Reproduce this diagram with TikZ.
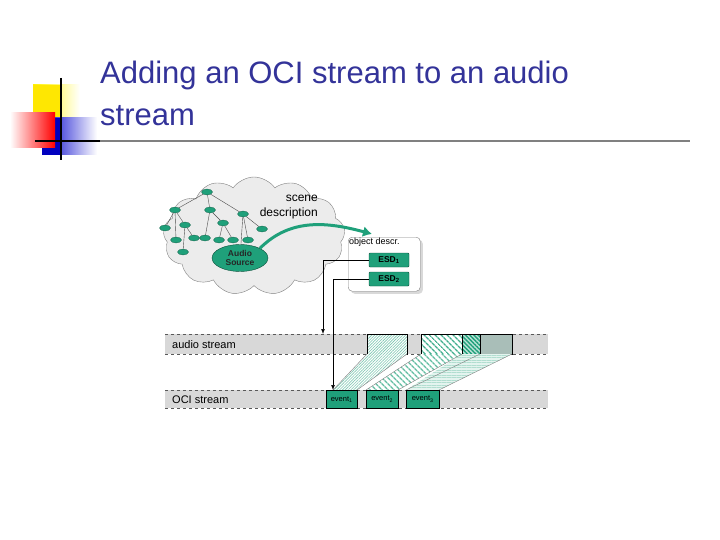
\documentclass[tikz,border=0pt]{standalone}
\usepackage{fontspec}
\setmainfont{Liberation Sans}
\usetikzlibrary{shapes.symbols,shapes.geometric,patterns,patterns.meta,arrows.meta,shadows}
\definecolor{teal}{HTML}{1FA07A}
\definecolor{titleblue}{HTML}{333399}
\definecolor{band}{HTML}{D8D8D8}
\begin{document}
\begin{tikzpicture}[x=1pt,y=-1pt,
 tn/.style={ellipse,fill=teal,draw=teal!60!black,line width=0.3pt,minimum width=11pt,minimum height=6pt,inner sep=0pt},
 esd/.style={draw=teal!50!black,fill=teal,rounded corners=1pt,minimum width=40pt,minimum height=14pt,inner sep=0pt,font=\fontsize{8.5}{8}\selectfont\bfseries},
 ev/.style={draw=black,fill=teal,minimum height=18pt,inner sep=0pt,font=\fontsize{7.5}{8}\selectfont,anchor=north west},
 lbl/.style={font=\fontsize{11}{12}\selectfont,anchor=west,inner sep=0pt}]
\useasboundingbox (0,0) rectangle (720,540);
% logo
\shade[left color=yellow!90!orange,right color=white] (33,85) rectangle (80,122);
\fill[yellow!90!orange] (33,85) rectangle (60,122);
\shade[left color=blue!80!black,right color=white] (42,118) rectangle (97,155);
\fill[blue!75!black] (42,118) rectangle (62,155);
\shade[left color=white,right color=red] (10,113) rectangle (55,148);
\draw[line width=1.6pt] (61,78) -- (61,160);
\draw[line width=1.6pt] (35,141) -- (100,141);
\draw[line width=1.2pt,gray] (100,141) -- (690,141);
\node[anchor=west,inner sep=0pt,text=titleblue,font=\fontsize{31}{42}\selectfont,align=left] (title) at (100,93) {Adding an OCI stream to an audio\\stream};
% cloud
\node[cloud,cloud puffs=13,cloud puff arc=110,aspect=1.6,draw=gray,fill=gray!15,minimum width=182pt,minimum height=118pt] (cloud) at (254,236) {};
% tree
\node[tn] (r) at (207,192) {};
\node[tn] (a) at (175,210) {}; \node[tn] (b) at (210,210) {}; \node[tn] (c) at (243,214) {};
\node[tn] (a1) at (165,228) {}; \node[tn] (a2) at (185,225) {};
\node[tn] (a3) at (176,240) {}; \node[tn] (a4) at (194,238) {};
\node[tn] (a5) at (183,252) {};
\node[tn] (b1) at (205,238) {}; \node[tn] (b2) at (223,223) {};
\node[tn] (b3) at (219,240) {}; \node[tn] (b4) at (233,240) {};
\node[tn] (c1) at (248,240) {}; \node[tn] (c2) at (262,229) {};
\node[ellipse,draw=teal!50!black,fill=teal,minimum width=56pt,minimum height=27pt,inner sep=0pt,align=center,font=\fontsize{8.5}{9}\selectfont\bfseries,text=black!85] (au) at (240,258) {Audio\\Source};
\foreach \p/\q in {r/a,r/b,r/c,a/a1,a/a3,a/a2,a2/a4,a2/a5,b/b1,b/b2,b2/b3,b2/b4,c/c1,c/c2,c/au}
 \draw[black!70,line width=0.4pt] (\p) -- (\q);
\node[anchor=east,align=right,inner sep=0pt,font=\fontsize{12}{15}\selectfont] (sd) at (318,207) {scene\\description};
% object descr
\node[draw=gray,fill=white,rounded corners=4pt,drop shadow={opacity=0.3},minimum width=72pt,minimum height=54pt,anchor=north west] (od) at (348,237) {};
\node[anchor=north west,inner sep=1pt,font=\fontsize{9}{9}\selectfont] (odt) at (348,237) {object descr.};
\node[esd] (e1) at (389,260) {ESD\textsubscript{1}};
\node[esd] (e2) at (389,279) {ESD\textsubscript{2}};
\draw[-{Latex[length=9pt,width=11pt]},line width=3pt,teal] (au.north east) to[out=45,in=165] (372,234);
% bands
\fill[band] (165,334) rectangle (548,354);
\fill[band] (165,390) rectangle (548,408);
\foreach \y in {334,354,390,408} \draw[dashed,gray!70!black,line width=0.5pt] (165,\y) -- (548,\y);
\node[lbl] (as) at (172,344.5) {audio stream};
\node[lbl] (os) at (172,399.5) {OCI stream};
% audio segments
\fill[white] (367,334) rectangle (407,354);
\fill[pattern={Lines[angle=45,distance=2pt,line width=0.6pt]},pattern color=teal!60] (367,334) rectangle (407,354);
\draw (367,334) rectangle (407,354);
\fill[white] (421,334) rectangle (462,354);
\fill[pattern={Lines[angle=-45,distance=4pt,line width=1.6pt]},pattern color=teal!85] (421,334) rectangle (462,354);
\fill[teal!30] (462,334) rectangle (480,354);
\fill[pattern={Lines[angle=-45,distance=3pt,line width=1.4pt]},pattern color=teal] (462,334) rectangle (480,354);
\fill[teal!30!gray!55] (480,334) rectangle (512,354);
\draw (421,334) rectangle (512,354); \draw (462,334)--(462,354); \draw (480,334)--(480,354);
% trapezoids
\fill[white] (367,354) -- (407,354) -- (357,390) -- (333,390) -- cycle;
\fill[pattern={Lines[angle=45,distance=2pt,line width=0.6pt]},pattern color=teal!55] (367,354) -- (407,354) -- (357,390) -- (333,390) -- cycle;
\fill[white] (421,354) -- (462,354) -- (398,390) -- (366,390) -- cycle;
\fill[pattern={Lines[angle=-45,distance=4pt,line width=1.4pt]},pattern color=teal!70] (421,354) -- (462,354) -- (398,390) -- (366,390) -- cycle;
\fill[teal!12] (462,354) -- (512,354) -- (439,390) -- (406,390) -- cycle;
\fill[pattern={Lines[angle=0,distance=2.5pt,line width=0.5pt]},pattern color=teal!35] (462,354) -- (512,354) -- (439,390) -- (406,390) -- cycle;
\draw[gray,line width=0.4pt] (367,354) -- (333,390) (407,354) -- (357,390) (421,354)--(366,390) (462,354)--(398,390) (480,354)--(406,390) (512,354)--(439,390);
% events
\node[ev,minimum width=31pt] (v1) at (326,390) {event\textsubscript{1}};
\node[ev,minimum width=32pt] (v2) at (366,390) {event\textsubscript{2}};
\node[ev,minimum width=33pt] (v3) at (406,390) {event\textsubscript{3}};
% connectors
\coordinate (t1) at (323,334);
\coordinate (t2) at (333,390);
\draw[-{Latex[length=5pt]},line width=0.5pt] (e1.west) -| (t1);
\draw[-{Latex[length=5pt]},line width=0.5pt] (e2.west) -| (t2);
\end{tikzpicture}
\end{document}
